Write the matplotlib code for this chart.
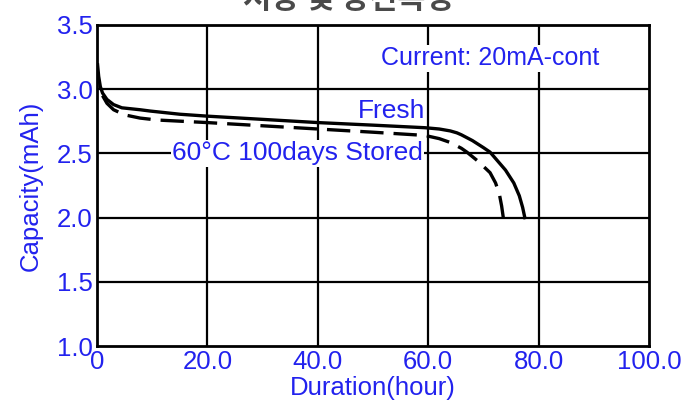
import matplotlib.pyplot as plt

plt.rcParams['font.family'] = ['Liberation Sans', 'Noto Sans CJK KR', 'DejaVu Sans']

# discharge curves
fresh_t = [0.1, 0.3, 0.6, 1.0, 1.8, 3.0, 4.5, 7.8, 9.6, 15, 20, 30, 40, 50, 59.4, 62, 64, 65.2, 66, 68, 70, 71.2, 72, 74, 75.5, 76.5, 77.1, 77.5]
fresh_v = [3.19, 3.10, 3.02, 2.97, 2.92, 2.88, 2.855, 2.84, 2.83, 2.805, 2.79, 2.765, 2.74, 2.72, 2.70, 2.69, 2.675, 2.66, 2.645, 2.60, 2.545, 2.51, 2.47, 2.37, 2.27, 2.17, 2.08, 2.0]

stored_t = [1.0, 1.8, 3.0, 5.0, 7.8, 10.9, 20, 30, 40, 50, 59.4, 62, 64, 66, 67, 69, 71.2, 72.2, 72.9, 73.3, 73.6]
stored_v = [2.95, 2.89, 2.84, 2.80, 2.775, 2.76, 2.74, 2.715, 2.69, 2.665, 2.64, 2.615, 2.585, 2.54, 2.51, 2.44, 2.35, 2.27, 2.18, 2.09, 2.0]

xticks = [0, 20, 40, 60, 80, 100]
xlabels = ['0', '20.0', '40.0', '60.0', '80.0', '100.0']
yticks = [1.0, 1.5, 2.0, 2.5, 3.0, 3.5]

blue = '#2222ee'
fs = 18.5

fig = plt.figure(figsize=(6.96, 4.09), dpi=100)
ax = fig.add_axes([0.1394, 0.154, 0.7931, 0.7849])

ax.set_xlim(0, 100)
ax.set_ylim(1.0, 3.5)
ax.set_xticks(xticks)
ax.set_xticklabels(xlabels)
ax.set_yticks(yticks)
ax.set_yticklabels(['%.1f' % v for v in yticks])
ax.tick_params(length=0, labelsize=fs, labelcolor=blue, pad=3)
for s in ax.spines.values():
    s.set_linewidth(2)
    s.set_color('black')

for x in xticks[1:-1]:
    ax.axvline(x, color='black', lw=1.6, zorder=1)
for y in yticks[1:-1]:
    ax.axhline(y, color='black', lw=1.6, zorder=1)

ax.plot(fresh_t, fresh_v, color='black', lw=2.4, zorder=3, solid_joinstyle='round')
ax.plot(stored_t, stored_v, color='black', lw=2.4, ls=(0, (7, 3)), zorder=3)

ax.text(59.4, 2.83, 'Fresh', color=blue, fontsize=19, ha='right', va='center', zorder=4)
ax.text(13.6, 2.5, '60°C 100days Stored', color=blue, fontsize=19, ha='left', va='center', zorder=4,
        bbox=dict(facecolor='white', edgecolor='none', pad=1))
ax.text(51.4, 3.24, 'Current: 20mA-cont', color=blue, fontsize=18, ha='left', va='center', zorder=4,
        bbox=dict(facecolor='white', edgecolor='none', pad=1))

ax.set_xlabel('Duration(hour)', color=blue, fontsize=fs, labelpad=1)
ax.set_ylabel('Capacity(mAh)', color=blue, fontsize=fs, labelpad=10)

fig.text(0.5, 1.003, '저장 및 방전특성', color='#4a4a4a', fontsize=22, fontweight='bold',
         ha='center', va='center', family=['Noto Sans CJK KR', 'DejaVu Sans'])

fig.savefig('out.png', dpi=100)
